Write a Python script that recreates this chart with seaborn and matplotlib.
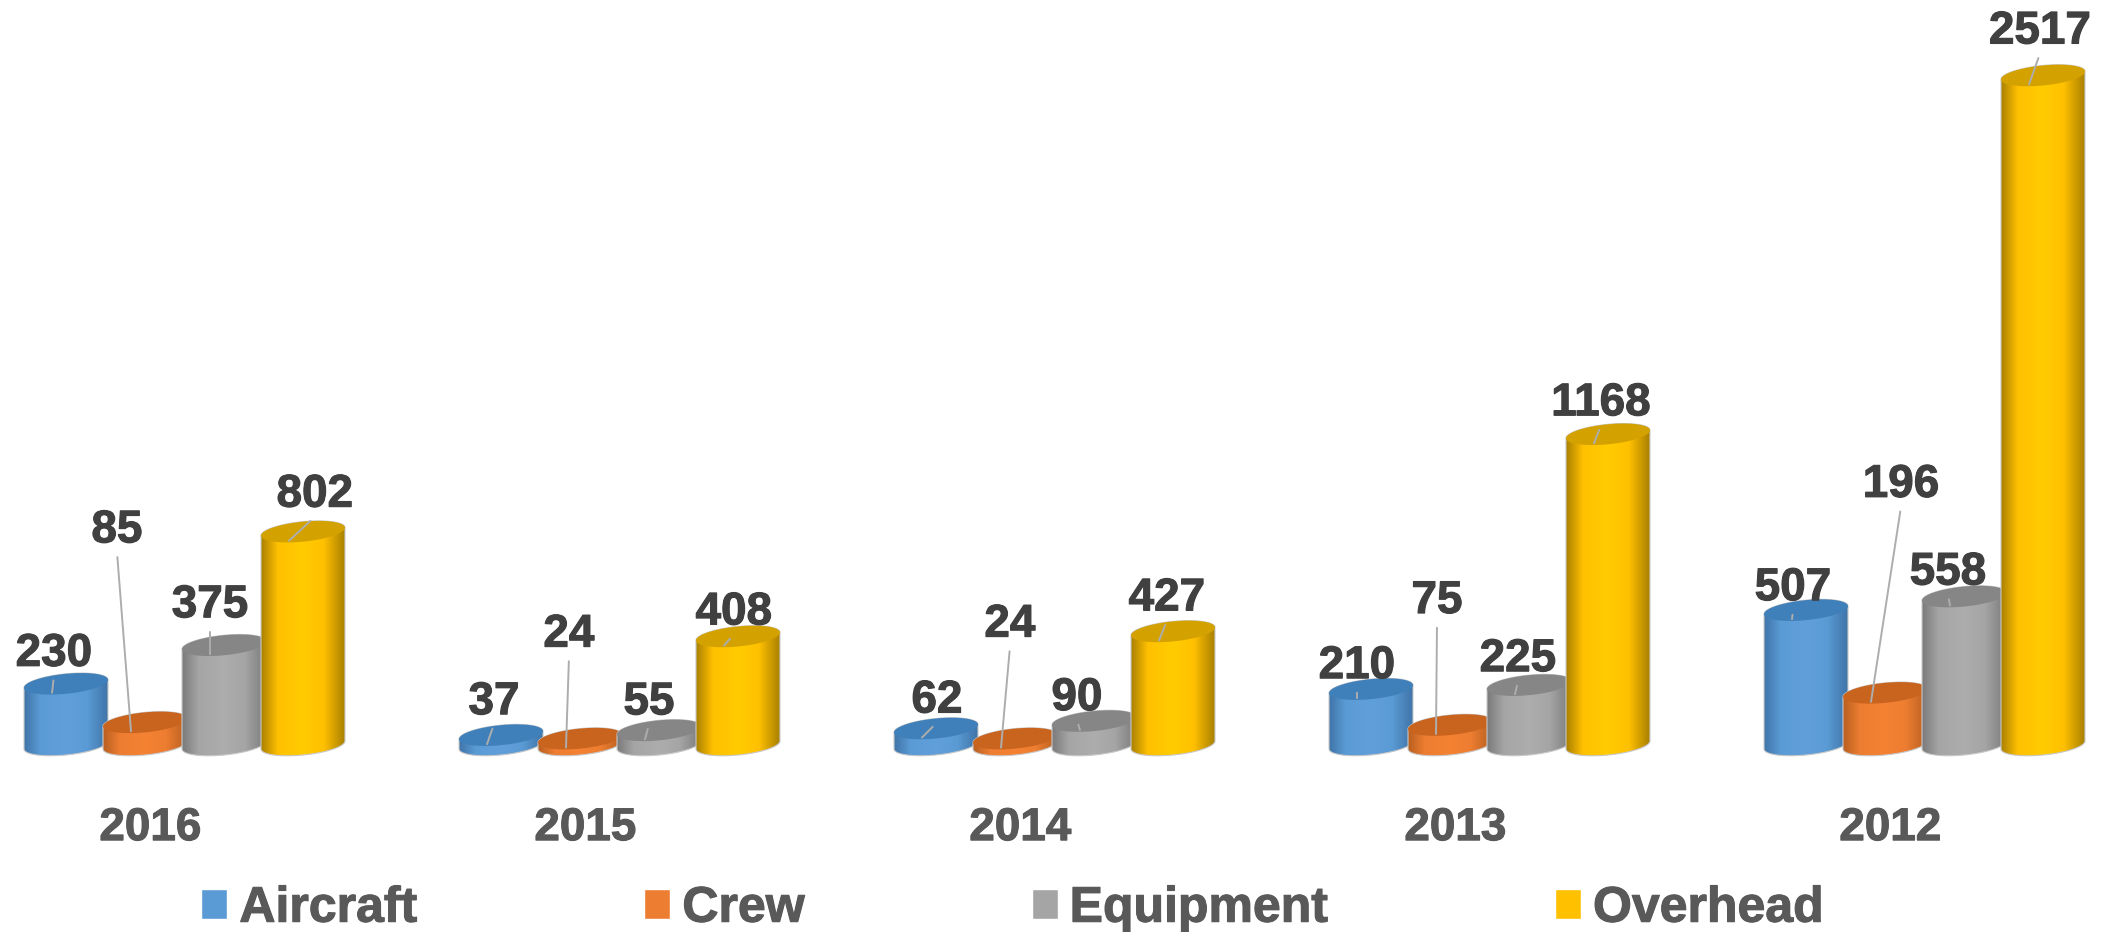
import numpy as np
import pandas as pd
import seaborn as sns
from matplotlib import pyplot as plt
from matplotlib import patheffects as pe
from matplotlib.colors import LinearSegmentedColormap
from matplotlib.patches import Polygon
from matplotlib.transforms import ScaledTranslation

years = ['2016', '2015', '2014', '2013', '2012']
aircraft = [230, 37, 62, 210, 507]
crew = [85, 24, 24, 75, 196]
equipment = [375, 55, 90, 225, 558]
overhead = [802, 408, 427, 1168, 2517]

series_names = ['Aircraft', 'Crew', 'Equipment', 'Overhead']
series_values = [aircraft, crew, equipment, overhead]

colors = ['#5B9BD5', '#ED7D31', '#A5A5A5', '#FFC000']
edge_colors = ['#3F74A8', '#B85F20', '#7A7A7A', '#A98000']
center_colors = ['#619FDA', '#F58233', '#ADADAD', '#FFCC00']
top_colors = ['#3F7FBA', '#C9641F', '#868686', '#D4A200']

# label offsets from the top of each bar, in pixels (x, up)
label_offsets = [
    [(-12, 30), (-7, 33), (1, 28), (-14, 23), (-13, 22)],
    [(-28, 192), (-11, 104), (-5, 114), (-13, 124), (16, 208)],
    [(-14, 40), (-10, 28), (-17, 23), (-11, 26), (-16, 24)],
    [(12, 37), (-4, 24), (-6, 33), (-7, 31), (-3, 44)],
]

W, H = 2114, 932
BASE_PX = 745
PX_PER_UNIT = 0.266
FIRST_GROUP_PX = 184.5
GROUP_PX = 435

sns.set_theme(style='white')
plt.rcParams['font.family'] = ['Liberation Sans', 'DejaVu Sans']
plt.rcParams['font.weight'] = 'bold'

df = pd.DataFrame({
    'year': years * len(series_names),
    'series': np.repeat(series_names, len(years)),
    'value': np.concatenate(series_values),
})

fig = plt.figure(figsize=(W / 100, H / 100), dpi=100)
ax = fig.add_axes([0, 0, 1, 1])
sns.barplot(data=df, x='year', y='value', hue='series', order=years,
            hue_order=series_names, palette=colors, width=0.7264, gap=0,
            saturation=1, ax=ax)

ax.set_xlabel('')
ax.set_ylabel('')
ax.set_yticks([])
for side in ['top', 'left', 'right']:
    ax.spines[side].set_visible(False)
ax.spines['bottom'].set_position(('data', 0))
ax.spines['bottom'].set_visible(False)
ax.tick_params(axis='x', length=0, pad=44, labelsize=33, labelcolor='#595959')

shift = ScaledTranslation(-34 / 100, 0, fig.dpi_scale_trans)
stroke = [pe.withStroke(linewidth=0.8, foreground='#595959')]
for lab in ax.get_xticklabels():
    lab.set_transform(lab.get_transform() + shift)
    lab.set_path_effects(stroke)

t_low = np.linspace(np.pi, 2 * np.pi, 60)
t_up = np.linspace(0, np.pi, 60)
t_all = np.linspace(0, 2 * np.pi, 120)
ry = 10 / PX_PER_UNIT
tilt = 4 / PX_PER_UNIT
grad = np.linspace(0, 1, 256).reshape(1, -1)
z = 3

for s, cont in enumerate(ax.containers):
    cmap = LinearSegmentedColormap.from_list('c', [
        (0, edge_colors[s]), (0.2, colors[s]), (0.5, center_colors[s]),
        (0.75, colors[s]), (1, edge_colors[s])])
    for g, bar in enumerate(cont):
        bar.set_visible(False)
        h = bar.get_height()
        cx = bar.get_x() + bar.get_width() / 2
        # cylinders are a little wider than their slot and overlap
        rx = bar.get_width() / 2 * 1.063

        low = np.c_[cx + rx * np.cos(t_low), ry * np.sin(t_low) + tilt * np.cos(t_low)]
        up = np.c_[cx + rx * np.cos(t_up), h + ry * np.sin(t_up) + tilt * np.cos(t_up)]
        body = Polygon(np.r_[low, up], closed=True, fc='none', ec='#C8C8C8', lw=0.8, zorder=z + 0.1)
        ax.add_patch(body)
        im = ax.imshow(grad, extent=[cx - rx, cx + rx, -2 * ry, h + 2 * ry], aspect='auto',
                       cmap=cmap, zorder=z, interpolation='bilinear')
        im.set_clip_path(body)

        cap = np.c_[cx + rx * np.cos(t_all), h + ry * np.sin(t_all) + tilt * np.cos(t_all)]
        ax.add_patch(Polygon(cap, closed=True, fc=top_colors[s], ec='none', zorder=z + 0.2))

        # leader ends inside the top face, left of the centre
        anchor = (cx - 14 / GROUP_PX, h - 9 / PX_PER_UNIT)
        dx, dy = label_offsets[s][g]
        ax.annotate(f'{series_values[s][g]}', xy=anchor,
                    xytext=(dx + 14, dy + 9), textcoords='offset pixels',
                    ha='center', va='center', fontsize=33, color='#404040', zorder=50,
                    path_effects=[pe.withStroke(linewidth=0.8, foreground='#404040')],
                    arrowprops=dict(arrowstyle='-', color='#ADADAD', lw=1.4, shrinkA=1, shrinkB=0,
                                    relpos=(0.5, 0)),
                    annotation_clip=False)
        z += 1

ax.set_xlim(-FIRST_GROUP_PX / GROUP_PX, (W - FIRST_GROUP_PX) / GROUP_PX)
ax.set_ylim(-(H - BASE_PX) / PX_PER_UNIT, BASE_PX / PX_PER_UNIT)

sns.move_legend(ax, loc='center', bbox_to_anchor=(0.479, 0.025), ncol=4, title=None,
                frameon=False, fontsize=36, labelcolor='#595959', handlelength=0.52,
                handleheight=0.54, handletextpad=0.24, columnspacing=4.54,
                borderpad=0, borderaxespad=0)
for t in ax.get_legend().get_texts():
    t.set_path_effects([pe.withStroke(linewidth=0.8, foreground='#595959')])

fig.savefig('out.png', dpi=100)
